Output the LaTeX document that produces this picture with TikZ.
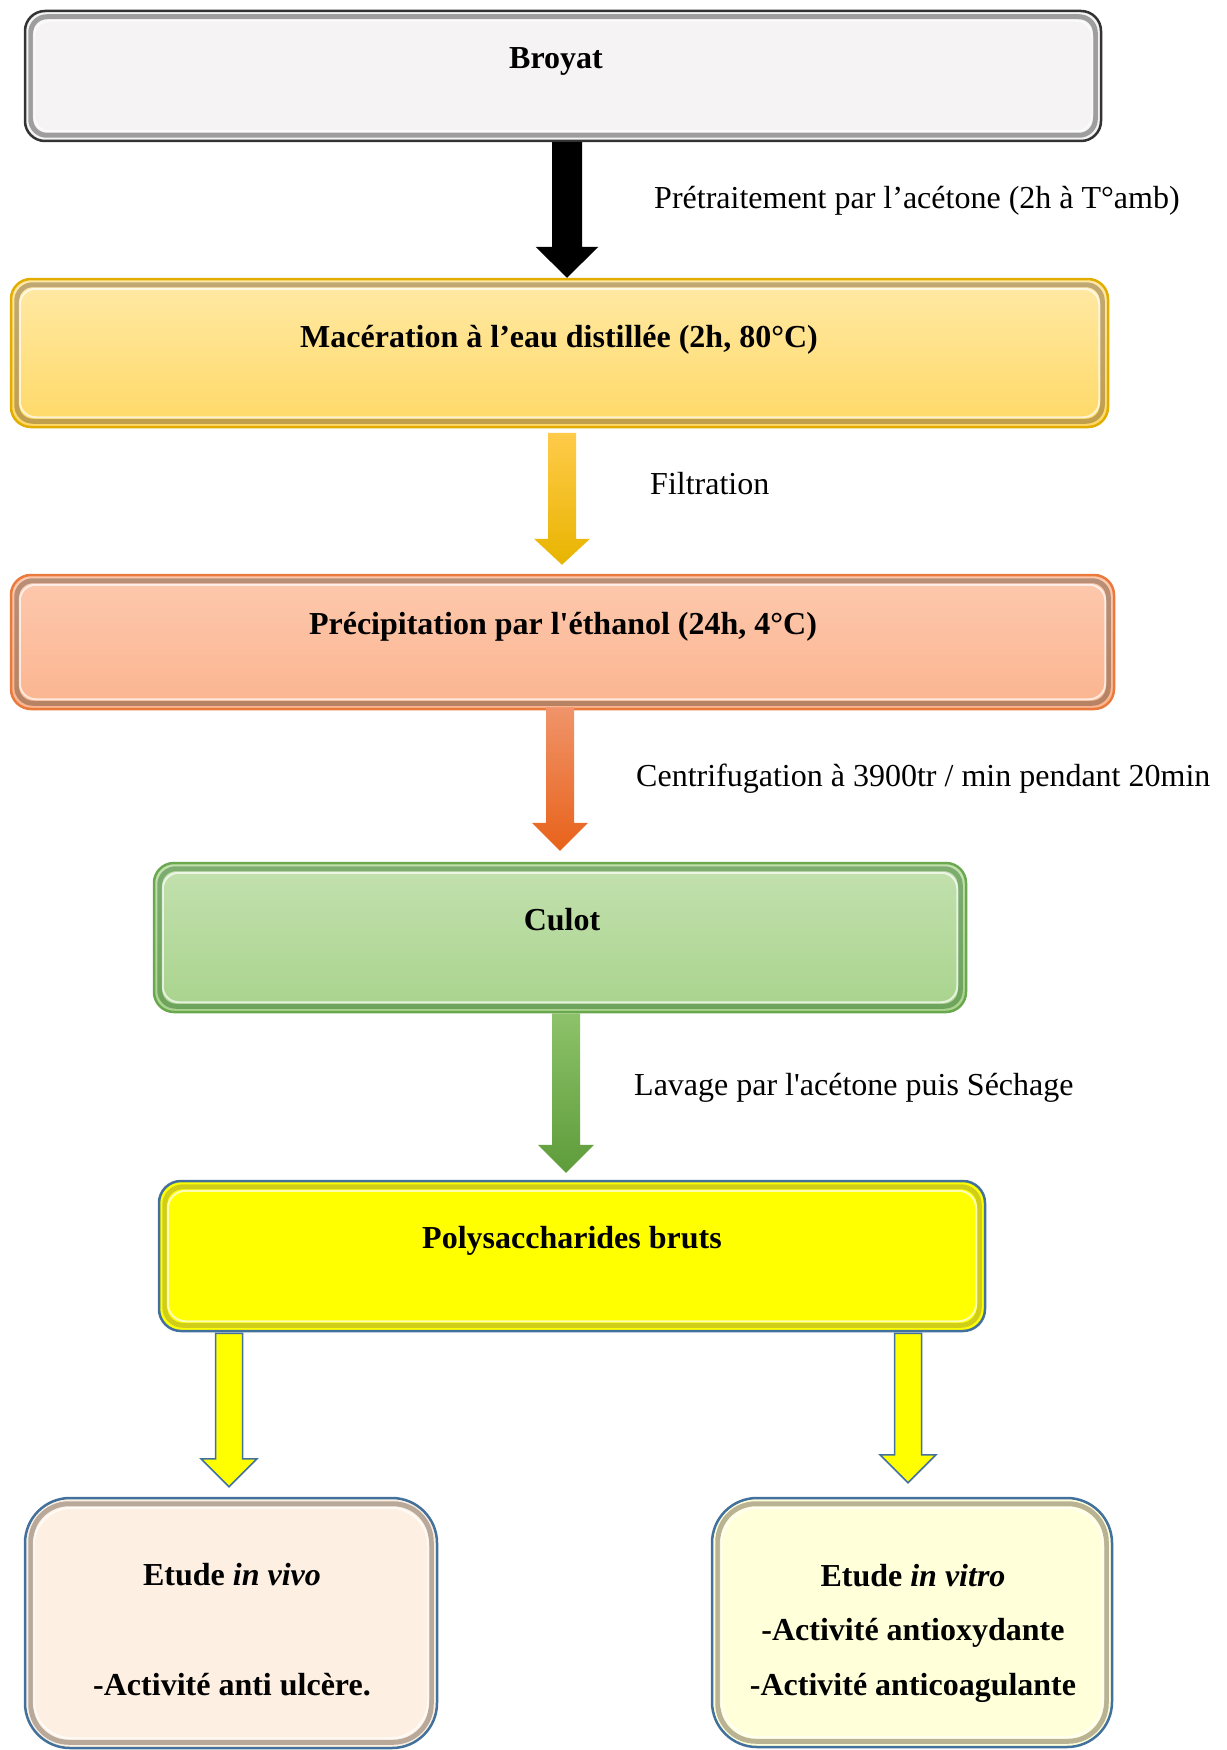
\documentclass[tikz,border=0pt]{standalone}
\usepackage{fontspec}
\setmainfont{Liberation Serif}
\usetikzlibrary{calc}
\definecolor{brfill}{HTML}{F5F3F4}
\definecolor{brborder}{HTML}{333333}
\definecolor{mactop}{HTML}{FFE9A6}
\definecolor{macbot}{HTML}{FFD966}
\definecolor{macborder}{HTML}{E2AC00}
\definecolor{prectop}{HTML}{FDC9AE}
\definecolor{precbot}{HTML}{FBB48F}
\definecolor{precborder}{HTML}{EA7A3C}
\definecolor{culottop}{HTML}{C3E1AF}
\definecolor{culotbot}{HTML}{A9D38D}
\definecolor{culotborder}{HTML}{6AA84F}
\definecolor{polyfill}{HTML}{FFFF00}
\definecolor{blueborder}{HTML}{41719C}
\definecolor{vivofill}{HTML}{FDF0E3}
\definecolor{vitrofill}{HTML}{FFFFDA}
\definecolor{goldtop}{HTML}{FFCB4A}
\definecolor{goldbot}{HTML}{E8B400}
\definecolor{orangetop}{HTML}{F0946A}
\definecolor{orangebot}{HTML}{E8621A}
\definecolor{greentop}{HTML}{8DC26A}
\definecolor{greenbot}{HTML}{5E9C3A}
% bevel: name, radius, colour
\newcommand\bevelbox[3]{%
  \draw[#3, line width=5pt, opacity=.35, rounded corners=#2]
    ([shift={(7,7)}]#1.north west) rectangle ([shift={(-7,-7)}]#1.south east);
  \draw[white, line width=2pt, opacity=.7, rounded corners=#2]
    ([shift={(10,11)}]#1.north west) rectangle ([shift={(-10,-11)}]#1.south east);
}
% block arrow: from, to, x, half shaft, half head, head length, style, start gap, end gap
\newcommand\blockarrow[9]{%
  \coordinate (ax) at (#3,0);
  \coordinate (t) at ([yshift=-#8pt]ax |- #1.south);
  \coordinate (b) at ([yshift=#9pt]ax |- #2.north);
  \path[#7] ($(t)+(-#4,0)$) -- ($(t)+(#4,0)$) -- ($(b)+(#4,-#6)$) -- ($(b)+(#5,-#6)$)
    -- (b) -- ($(b)+(-#5,-#6)$) -- ($(b)+(-#4,-#6)$) -- cycle;
}
\begin{document}
\begin{tikzpicture}[x=1pt,y=-1pt,
  box/.style={line width=2.5pt, inner sep=0pt},
  lab/.style={anchor=west, inner sep=0pt, font=\fontsize{32}{38}\selectfont},
  ttl/.style={inner sep=0pt, align=center, font=\fontsize{32}{38}\selectfont\bfseries}]
\useasboundingbox[fill=white] (0,0) rectangle (1226,1750);

% boxes
\node[box, draw=brborder, fill=brfill, rounded corners=20pt,
  minimum width=1076pt, minimum height=130pt] (broyat) at (563,76) {};
\bevelbox{broyat}{16pt}{black}
\node[box, draw=macborder, top color=mactop, bottom color=macbot, rounded corners=20pt,
  minimum width=1097pt, minimum height=148pt] (mac) at (559.5,353) {};
\bevelbox{mac}{16pt}{black!60!brown}
\node[box, draw=precborder, top color=prectop, bottom color=precbot, rounded corners=20pt,
  minimum width=1103pt, minimum height=134pt] (prec) at (562.5,642) {};
\bevelbox{prec}{16pt}{black!70!brown}
\node[box, draw=culotborder, top color=culottop, bottom color=culotbot, rounded corners=20pt,
  minimum width=812pt, minimum height=149pt] (culot) at (560,937.5) {};
\bevelbox{culot}{16pt}{black!70!green}
\node[box, draw=blueborder, fill=polyfill, rounded corners=22pt,
  minimum width=826pt, minimum height=150pt] (poly) at (572,1256) {};
\bevelbox{poly}{18pt}{black!60!yellow}
\node[box, draw=blueborder, fill=vivofill, rounded corners=45pt,
  minimum width=412pt, minimum height=250pt] (vivo) at (231,1623) {};
\bevelbox{vivo}{38pt}{black!70!brown}
\node[box, draw=blueborder, fill=vitrofill, rounded corners=45pt,
  minimum width=400pt, minimum height=249pt] (vitro) at (912,1622.5) {};
\bevelbox{vitro}{38pt}{black!70!brown}

% box texts
\node[ttl] (tbroyat) at (556,61) {Broyat};
\node[ttl] (tmac) at (559,339.5) {Macération à l’eau distillée (2h, 80°C)};
\node[ttl] (tprec) at (563,626.5) {Précipitation par l\textquotesingle éthanol (24h, 4°C)};
\node[ttl] (tculot) at (562,920) {Culot};
\node[ttl] (tpoly) at (572,1241) {Polysaccharides bruts};
\node[ttl, font=\fontsize{32}{55}\selectfont\bfseries] (tvivo) at (232,1630)
  {Etude \textit{in vivo}\\[55pt]-Activité anti ulcère.};
\node[ttl, font=\fontsize{32}{54.5}\selectfont\bfseries] (tvitro) at (913,1633)
  {Etude \textit{in vitro}\\-Activité antioxydante\\-Activité anticoagulante};

% arrows
\blockarrow{broyat}{mac}{567}{15}{31.5}{31}{fill=black}{0}{0}
\blockarrow{mac}{prec}{562}{14}{28}{26}{top color=goldtop, bottom color=goldbot}{4.5}{9}
\blockarrow{prec}{culot}{560}{14}{28}{28}{top color=orangetop, bottom color=orangebot}{-3}{11}
\blockarrow{culot}{poly}{566}{14}{28}{28}{top color=greentop, bottom color=greenbot}{0}{7}
\blockarrow{poly}{vivo}{229}{13.5}{28}{28}{fill=polyfill, draw=blueborder, line width=1.5pt}{1}{10}
\blockarrow{poly}{vitro}{908}{13.5}{28}{28}{fill=polyfill, draw=blueborder, line width=1.5pt}{1}{14}

% labels
\node[lab] (l1) at (654,201) {Prétraitement par l’acétone (2h à T°amb)};
\node[lab] (l2) at (650,484) {Filtration};
\node[lab] (l3) at (636,779) {Centrifugation à 3900tr / min pendant 20min};
\node[lab] (l4) at (634,1088) {Lavage par l\textquotesingle acétone puis Séchage};
\end{tikzpicture}
\end{document}
